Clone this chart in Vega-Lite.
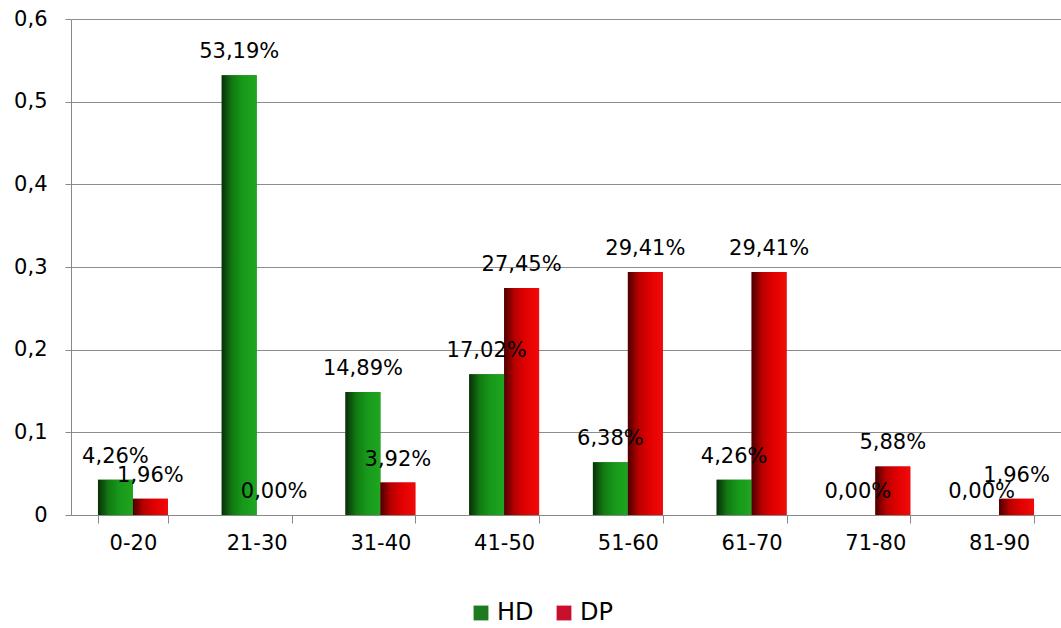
{
  "$schema": "https://vega.github.io/schema/vega-lite/v6.json",
  "width": 990,
  "height": 496,
  "autosize": {"type": "none"},
  "padding": {"left": 71, "top": 19, "right": 0, "bottom": 113},
  "background": "white",
  "config": {
    "locale": {"number": {"decimal": ",", "thousands": ".", "grouping": [3], "currency": ["", " €"]}},
    "view": {"stroke": null},
    "font": "DejaVu Sans"
  },
  "data": {
    "values": [
      {"age": "0-20", "series": "HD", "value": 0.0426},
      {"age": "0-20", "series": "DP", "value": 0.0196},
      {"age": "21-30", "series": "HD", "value": 0.5319},
      {"age": "21-30", "series": "DP", "value": 0.0},
      {"age": "31-40", "series": "HD", "value": 0.1489},
      {"age": "31-40", "series": "DP", "value": 0.0392},
      {"age": "41-50", "series": "HD", "value": 0.1702},
      {"age": "41-50", "series": "DP", "value": 0.2745},
      {"age": "51-60", "series": "HD", "value": 0.0638},
      {"age": "51-60", "series": "DP", "value": 0.2941},
      {"age": "61-70", "series": "HD", "value": 0.0426},
      {"age": "61-70", "series": "DP", "value": 0.2941},
      {"age": "71-80", "series": "HD", "value": 0.0},
      {"age": "71-80", "series": "DP", "value": 0.0588},
      {"age": "81-90", "series": "HD", "value": 0.0},
      {"age": "81-90", "series": "DP", "value": 0.0196}
    ]
  },
  "encoding": {
    "x": {
      "field": "age",
      "type": "nominal",
      "sort": null,
      "scale": {"paddingInner": 0.435, "paddingOuter": 0.218},
      "axis": {
        "title": null,
        "labelAngle": 0,
        "labelFontSize": 21,
        "labelColor": "#000000",
        "labelPadding": 9,
        "tickBand": "extent",
        "tickSize": 8,
        "tickColor": "#888888",
        "domainColor": "#888888",
        "grid": false
      }
    },
    "xOffset": {"field": "series", "type": "nominal", "sort": ["HD", "DP"], "scale": {"domain": ["HD", "DP"]}},
    "y": {
      "field": "value",
      "type": "quantitative",
      "scale": {"domain": [0, 0.6], "nice": false},
      "axis": {
        "title": null,
        "values": [0, 0.1, 0.2, 0.3, 0.4, 0.5, 0.6],
        "format": ".1~f",
        "labelFontSize": 21,
        "labelColor": "#000000",
        "labelPadding": 18,
        "tickSize": 6,
        "tickColor": "#888888",
        "domainColor": "#888888",
        "gridColor": "#8c8c8c",
        "gridOpacity": 1
      }
    }
  },
  "layer": [
    {
      "mark": {"type": "bar"},
      "encoding": {
        "color": {
          "field": "series",
          "type": "nominal",
          "sort": ["HD", "DP"],
          "scale": {"domain": ["HD", "DP"], "range": ["#1e7a1e", "#c8102e"]},
          "legend": {
            "orient": "none",
            "direction": "horizontal",
            "legendX": 398,
            "legendY": 582,
            "title": null,
            "symbolType": "square",
            "symbolSize": 220,
            "symbolStrokeWidth": 0,
            "labelFontSize": 24,
            "labelColor": "#000000",
            "columnPadding": 18
          }
        }
      }
    },
    {
      "transform": [{"filter": "datum.series == 'HD'"}],
      "mark": {
        "type": "bar",
        "fill": {
          "gradient": "linear",
          "x1": 0, "y1": 0, "x2": 1, "y2": 0,
          "stops": [
            {"offset": 0, "color": "#0a2e0a"},
            {"offset": 0.3, "color": "#117a11"},
            {"offset": 0.6, "color": "#17981a"},
            {"offset": 1, "color": "#1fa61f"}
          ]
        }
      }
    },
    {
      "transform": [{"filter": "datum.series == 'DP'"}],
      "mark": {
        "type": "bar",
        "fill": {
          "gradient": "linear",
          "x1": 0, "y1": 0, "x2": 1, "y2": 0,
          "stops": [
            {"offset": 0, "color": "#4a0000"},
            {"offset": 0.3, "color": "#b80000"},
            {"offset": 0.6, "color": "#e00000"},
            {"offset": 1, "color": "#f20a0a"}
          ]
        }
      }
    },
    {
      "mark": {"type": "text", "dy": -23, "fontSize": 21, "color": "#000000", "baseline": "middle"},
      "encoding": {"text": {"field": "value", "type": "quantitative", "format": ".2%"}}
    }
  ]
}
